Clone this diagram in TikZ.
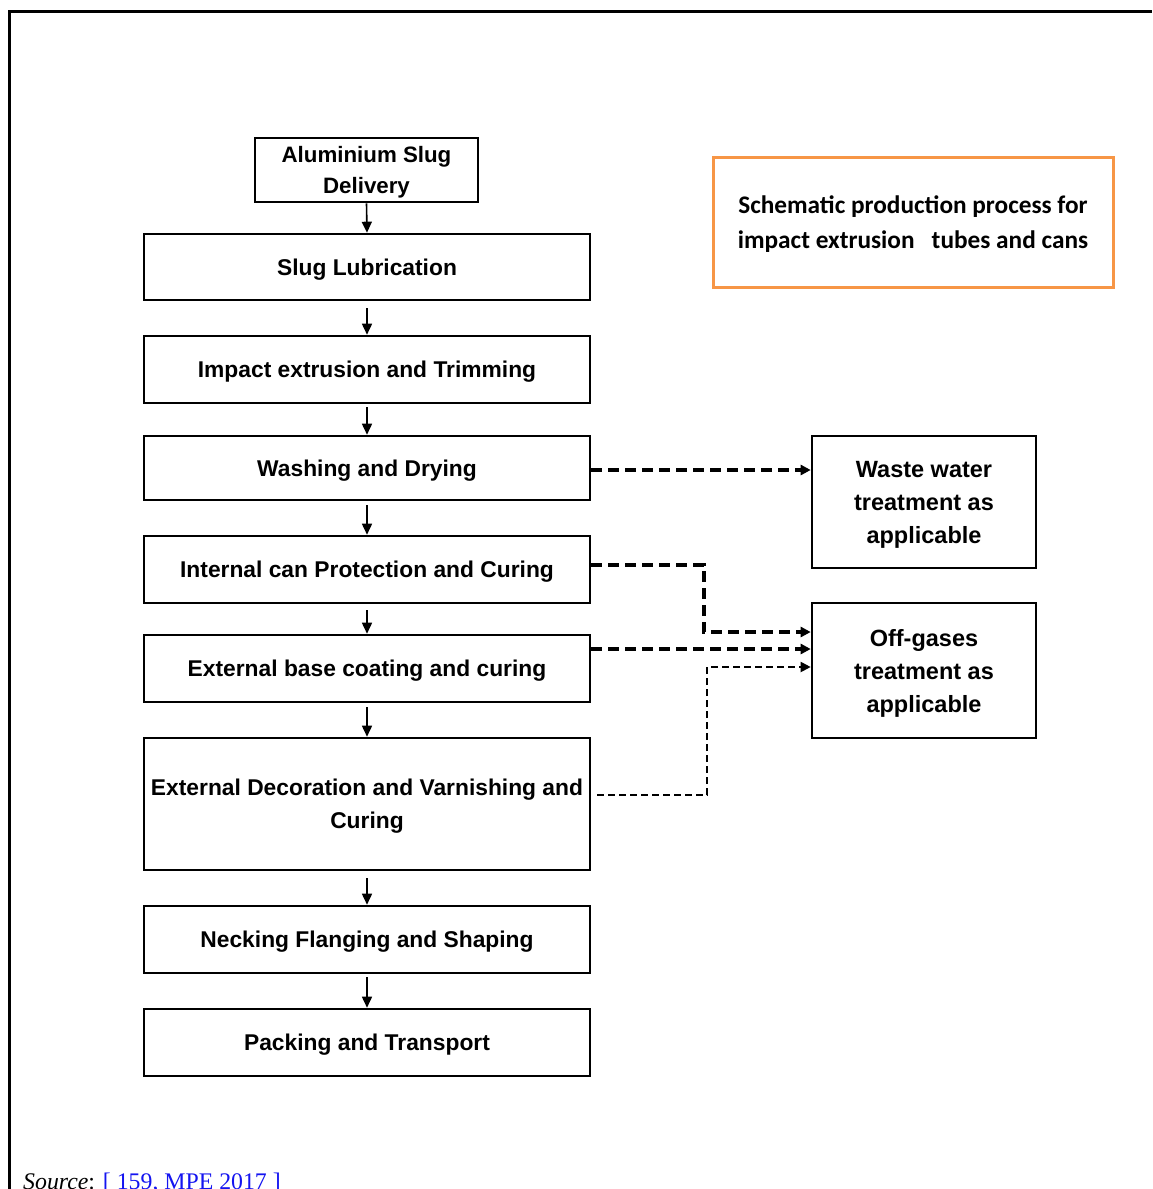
\documentclass[tikz,border=0pt]{standalone}
\usepackage{fontspec}
\setmainfont{Liberation Sans}
\newfontfamily\calibri{Carlito}
\newfontfamily\timesf{Liberation Serif}
\usetikzlibrary{arrows.meta,positioning}
\definecolor{frameorange}{RGB}{247,150,70}
\definecolor{linkblue}{RGB}{20,20,240}
\tikzset{
  stepbox/.style={draw=black, line width=2.6pt, minimum width=446pt, align=center,
    font=\fontsize{22.8}{33}\selectfont\bfseries, inner sep=0pt, text depth=0pt},
  sidebox/.style={draw=black, line width=2.6pt, minimum width=224pt, align=center,
    font=\fontsize{23.5}{33}\selectfont\bfseries, inner sep=0pt, text depth=0pt},
  flow/.style={draw=black, line width=1.6pt, -{Triangle[length=11pt,width=10pt]}},
  waste/.style={draw=black, line width=3.2pt, dash pattern=on 11pt off 6pt,
    -{Triangle[length=10pt,width=10pt]}},
  thinwaste/.style={draw=black, line width=1.9pt, dash pattern=on 7pt off 4pt,
    -{Triangle[length=10pt,width=10pt]}},
}
\begin{document}
\begin{tikzpicture}[x=1pt,y=-1pt]
\useasboundingbox (0,0) rectangle (1152,1189);
% page frame (only left and top edges visible)
\draw[line width=3pt] (9,1189) -- (9,11) -- (1152,11);

% main process chain
\node[stepbox, minimum width=223pt, minimum height=64pt, font=\fontsize{22.3}{31}\selectfont\bfseries]
  (slug) at (366.5,170) {Aluminium Slug\\Delivery};
\node[stepbox, minimum height=66pt] (lub) at (367,267) {Slug Lubrication};
\node[stepbox, minimum height=67pt] (ext) at (367,369.5) {Impact extrusion and  Trimming};
\node[stepbox, minimum height=64pt] (wash) at (367,468) {Washing and Drying};
\node[stepbox, minimum height=67pt] (intc) at (367,569.5) {Internal can Protection and Curing};
\node[stepbox, minimum height=67pt] (base) at (367,668.5) {External base coating and curing};
\node[stepbox, minimum height=132pt] (deco) at (367,804) {External Decoration and Varnishing and\\Curing};
\node[stepbox, minimum height=67pt] (neck) at (367,939.5) {Necking Flanging and Shaping};
\node[stepbox, minimum height=67pt] (pack) at (367,1042.5) {Packing and Transport};

% treatment boxes
\node[sidebox, minimum height=132pt] (water) at (924,502) {Waste water\\treatment as\\applicable};
\node[sidebox, minimum height=135pt] (gas) at (924,670.5) {Off-gases\\treatment as\\applicable};

% title box
\node[draw=frameorange, line width=3pt, minimum width=400pt, minimum height=130pt, align=center,
  font=\calibri\fontsize{25.3}{35}\selectfont\bfseries, inner sep=0pt, text depth=0pt] (title) at (913,222)
  {Schematic production process for\\impact extrusion \ \ tubes and cans};

% flow arrows
\draw[flow] (slug.south) -- (lub.north);
\draw[flow, shorten <=7pt] (lub.south) -- (ext.north);
\draw[flow, shorten <=3pt] (ext.south) -- (wash.north);
\draw[flow, shorten <=4pt] (wash.south) -- (intc.north);
\draw[flow, shorten <=6pt] (intc.south) -- (base.north);
\draw[flow, shorten <=4pt] (base.south) -- (deco.north);
\draw[flow, shorten <=7pt] (deco.south) -- (neck.north);
\draw[flow, shorten <=3pt] (neck.south) -- (pack.north);

% waste streams
\coordinate (w1) at (wash.east |- 0,470);
\draw[waste] (w1) -- (water.west |- w1);
\coordinate (i1) at (intc.east |- 0,565);
\draw[waste] (i1) -- (704,565) -- (704,632) -- (gas.west |- 0,632);
\coordinate (b1) at (base.east |- 0,649);
\draw[waste] (b1) -- (gas.west |- b1);
\coordinate (d1) at (597,795);
\draw[thinwaste] (d1) -- (707,795) -- (707,667) -- (gas.west |- 0,667);

% source line
\node[anchor=base west, inner sep=0pt, font=\timesf\fontsize{23.8}{26}\selectfont] (src) at (23,1189)
  {\textit{Source}: \textcolor{linkblue}{[ 159, MPE 2017 ]}};
\end{tikzpicture}
\end{document}
